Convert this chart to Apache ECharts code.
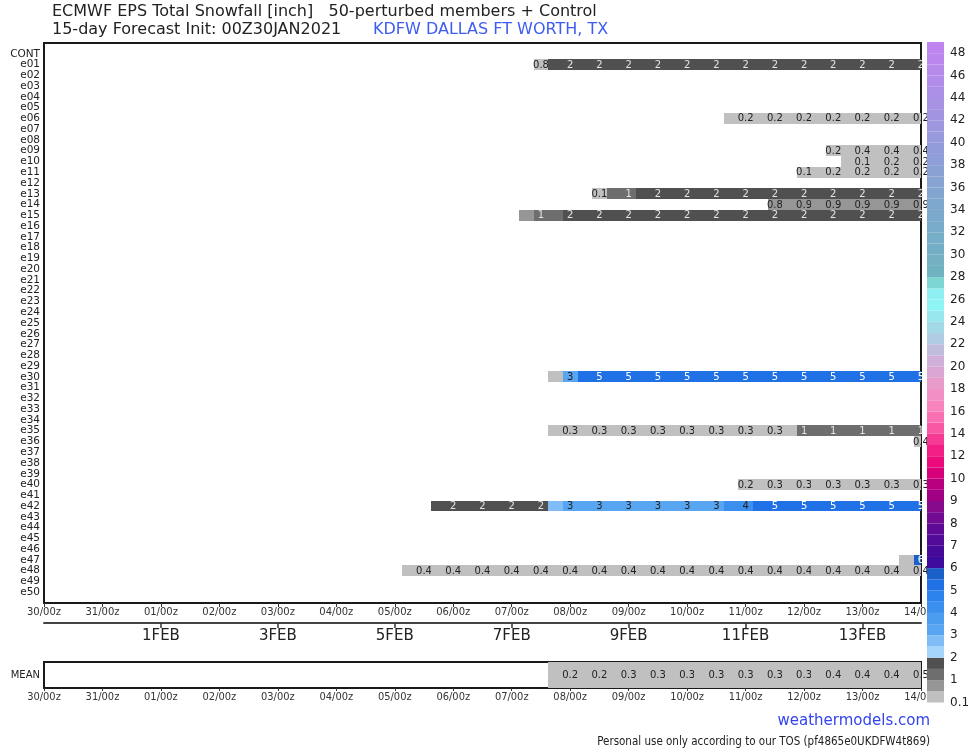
<!DOCTYPE html>
<html><head><meta charset="utf-8">
<script src="https://cdn.jsdelivr.net/npm/echarts@6/dist/echarts.min.js"></script>
<style>html,body{margin:0;padding:0;background:#fff}#c{width:975px;height:750px}</style>
</head><body><div id="c"></div>
<script>
// ---------- data ----------
const members = ['CONT','e01','e02','e03','e04','e05','e06','e07','e08','e09','e10',
  'e11','e12','e13','e14','e15','e16','e17','e18','e19','e20',
  'e21','e22','e23','e24','e25','e26','e27','e28','e29','e30',
  'e31','e32','e33','e34','e35','e36','e37','e38','e39','e40',
  'e41','e42','e43','e44','e45','e46','e47','e48','e49','e50'];
const timeLabels = ['30/00z','31/00z','01/00z','02/00z','03/00z','04/00z','05/00z','06/00z',
  '07/00z','08/00z','09/00z','10/00z','11/00z','12/00z','13/00z','14/00z'];
const dateSteps = [8,16,24,32,40,48,56];
const dateLabels = ['1FEB','3FEB','5FEB','7FEB','9FEB','11FEB','13FEB'];
const cbLabels = ['0.1','1','2','3','4','5','6','7','8','9','10','12','14','16','18','20',
  '22','24','26','28','30','32','34','36','38','40','42','44','46','48'];
const binEdges = [0.1,0.8,1,1.5,2,2.5,3,3.5,4,4.5,5,5.5,6,6.5,7,7.5,8,8.5,9,9.5,10,
  11,12,13,14,15,16,17,18,19,20,21,22,23,24,25,26,27,28,29,30,31,32,33,34,35,36,37,38,
  39,40,41,42,43,44,45,46,47,48,50];

// accumulated snowfall per member: first 6-hourly step index and values
const e01 = {start:34, v:[0.77,1.8,1.8,1.8,1.8,1.8,1.8,1.8,1.8,1.8,1.8,1.8,1.8,1.8,1.8,1.8,1.8,1.8,1.8,1.8,1.8,1.8,1.8,1.8,1.8,1.8,1.8]};
const e06 = {start:47, v:[0.2,0.2,0.2,0.2,0.2,0.2,0.2,0.2,0.2,0.2,0.2,0.2,0.2,0.2]};
const e09 = {start:54, v:[0.2,0.3,0.4,0.4,0.4,0.4,0.4]};
const e10 = {start:55, v:[0.1,0.1,0.15,0.2,0.2,0.2]};
const e11 = {start:52, v:[0.1,0.15,0.2,0.2,0.2,0.2,0.2,0.2,0.2]};
const e13 = {start:38, v:[0.1,1.2,1.2,1.8,1.8,1.8,1.8,1.8,1.8,1.8,1.8,1.8,1.8,1.8,1.8,1.8,1.8,1.8,1.8,1.8,1.8,1.8,1.8]};
const e14 = {start:50, v:[0.84,0.87,0.9,0.9,0.9,0.9,0.9,0.9,0.9,0.9,0.9]};
const e15 = {start:33, v:[0.85,1.2,1.3,1.8,1.8,1.8,1.8,1.8,1.8,1.8,1.8,1.8,1.8,1.8,1.8,1.8,1.8,1.8,1.8,1.8,1.8,1.8,1.8,1.8,1.8,1.8,1.8,1.8]};
const e30 = {start:35, v:[0.3,3.2,5.2,5.2,5.2,5.2,5.2,5.2,5.2,5.2,5.2,5.2,5.2,5.2,5.2,5.2,5.2,5.2,5.2,5.2,5.2,5.2,5.2,5.2,5.2,5.2]};
const e35 = {start:35, v:[0.3,0.3,0.3,0.3,0.3,0.3,0.3,0.3,0.3,0.3,0.3,0.3,0.3,0.3,0.3,0.3,0.3,1.2,1.2,1.2,1.2,1.2,1.2,1.2,1.2,1.2]};
const e36 = {start:60, v:[0.4]};
const e40 = {start:48, v:[0.2,0.25,0.3,0.3,0.3,0.3,0.3,0.3,0.3,0.3,0.3,0.3,0.3]};
const e42 = {start:27, v:[1.8,1.8,1.8,1.8,1.8,1.8,1.8,1.8,2.8,3.2,3.2,3.2,3.2,3.2,3.2,3.2,3.2,3.2,3.2,3.2,4.2,4.2,5.2,5.2,5.2,5.2,5.2,5.2,5.2,5.2,5.2,5.2,5.2,5.2]};
const e47 = {start:59, v:[0.3,5.8]};
const e48 = {start:25, v:[0.4,0.4,0.4,0.4,0.4,0.4,0.4,0.4,0.4,0.4,0.4,0.4,0.4,0.4,0.4,0.4,0.4,0.4,0.4,0.4,0.4,0.4,0.4,0.4,0.4,0.4,0.4,0.4,0.4,0.4,0.4,0.4,0.4,0.4,0.4,0.4]};
const meanRun = {start:35, v:[0.15,0.2,0.2,0.24,0.26,0.28,0.29,0.3,0.3,0.3,0.3,0.3,0.31,0.32,0.33,0.33,0.34,0.34,0.35,0.36,0.37,0.38,0.39,0.4,0.42,0.46]};
const runs = [['e01',e01],['e06',e06],['e09',e09],['e10',e10],['e11',e11],['e13',e13],['e14',e14],
  ['e15',e15],['e30',e30],['e35',e35],['e36',e36],['e40',e40],['e42',e42],['e47',e47],['e48',e48]];

// ---------- style ----------
const cbColors = ['#c0c0c0','#969696','#6e6e6e','#505050',
  '#a5d5fa','#80bcf6','#58a6f1','#4a9def','#3b90ef','#2d83ec','#2070e6','#1a60c8',
  '#3c0a9c','#460a9a','#520a98','#5e0a96','#720a92','#880a8c','#a00084','#b8007e',
  '#d8007a','#ec0a7c','#f21e86','#f63a94','#f958a4','#fa70b2','#f884be','#f290c6','#e89ccc','#dca6d2',
  '#d0b0d8','#c0bcdc','#b0cce4','#a4dae8','#98e6ee','#8ef4f4','#8ef0f0','#7ed6d2',
  '#70b2c0','#72b0c2','#74aec5','#76adc7','#78abc9','#7ba9cb','#7ea7cd','#82a5cf','#86a3d2','#8aa1d4',
  '#8f9ed7','#939cda','#989adc','#9d97df','#a294e1','#a792e4','#ac8fe6','#b18ce9','#b68aeb','#bb87ee','#c084f1'];
function segOf(v){ for(let i=binEdges.length-2;i>=0;i--){ if(v>=binEdges[i]) return i; } return -1; }
function fmt(v){ return v < 1 ? v.toFixed(1) : String(Math.round(v)); }
function txtColor(s){ return (s===2||s===3) ? '#e4e4e4' : (s>=10 ? '#ffffff' : '#222222'); }

const cellData = [];
runs.forEach(([name, run]) => {
  const r = members.indexOf(name);
  run.v.forEach((v, i) => cellData.push([run.start + i, r, v]));
});
const meanData = meanRun.v.map((v, i) => [meanRun.start + i, 0, v]);
const cbData = cbColors.map((c, i) => [i]);

function renderCell(params, api){
  const k = api.value(0), r = api.value(1), v = api.value(2);
  const p0 = api.coord([k - 0.5, r - 0.5]);
  const p1 = api.coord([k + 0.5, r + 0.5]);
  const x0 = Math.round(Math.min(p0[0], p1[0])), x1 = Math.round(Math.max(p0[0], p1[0]));
  const y0 = Math.round(Math.min(p0[1], p1[1])), y1 = Math.round(Math.max(p0[1], p1[1]));
  const cs = params.coordSys;
  const rect = echarts.graphic.clipRectByRect({x:x0, y:y0, width:x1-x0, height:y1-y0},
    {x:cs.x, y:cs.y, width:cs.width, height:cs.height});
  const s = segOf(v);
  const children = [];
  if (rect && s >= 0) children.push({type:'rect', shape:rect, style:{fill:cbColors[s]}});
  if (k % 2 === 0) children.push({type:'text', style:{text:fmt(v), x:(p0[0]+p1[0])/2, y:(p0[1]+p1[1])/2 + 0.5,
    align:'center', verticalAlign:'middle', fill:txtColor(s), fontSize:10, fontFamily:'DejaVu Sans'}});
  return {type:'group', children};
}
function renderCb(params, api){
  const i = api.value(0);
  const p0 = api.coord([0, i]);
  const p1 = api.coord([1, i + 1]);
  return {type:'rect', shape:{x:p0[0], y:Math.min(p0[1],p1[1]), width:p1[0]-p0[0], height:Math.abs(p1[1]-p0[1])},
    style:{fill:cbColors[i]}};
}

const chart = echarts.init(document.getElementById('c'), null, {renderer:'canvas'});
const tfont = 'DejaVu Sans';
const nfont = "'Liberation Sans Narrow','DejaVu Sans Condensed',sans-serif";
chart.setOption({
  animation:false,
  backgroundColor:'#ffffff',
  title:[
    {text:'ECMWF EPS Total Snowfall [inch]   50-perturbed members + Control', left:52, top:4, padding:0,
      textStyle:{fontSize:16, fontWeight:'normal', color:'#222', fontFamily:tfont}},
    {text:'15-day Forecast Init: 00Z30JAN2021', left:52, top:22, padding:0,
      textStyle:{fontSize:16, fontWeight:'normal', color:'#222', fontFamily:tfont}},
    {text:'KDFW DALLAS FT WORTH, TX', left:373, top:22, padding:0,
      textStyle:{fontSize:16, fontWeight:'normal', color:'#3d5cf2', fontFamily:tfont}},
    {text:'weathermodels.com', right:45, top:714, padding:0,
      textStyle:{fontSize:15, fontWeight:'normal', color:'#3344ee', fontFamily:tfont}},
    {text:'Personal use only according to our TOS (pf4865e0UKDFW4t869)', right:45, top:736, padding:0,
      textStyle:{fontSize:11.5, fontWeight:'normal', color:'#222', fontFamily:nfont}}
  ],
  grid:[
    {left:44, top:43, width:877, height:560, show:true, borderColor:'#1a1a1a', borderWidth:2, backgroundColor:'#fff'},
    {left:44, top:662, width:877, height:26, show:true, borderColor:'#1a1a1a', borderWidth:2, backgroundColor:'#fff'},
    {left:927, top:42, width:17, height:660.5, show:false}
  ],
  xAxis:[
    {gridIndex:0, type:'value', min:0, max:60, interval:4, position:'bottom',
      axisLine:{show:false, onZero:false}, splitLine:{show:false},
      axisTick:{show:true, length:4, lineStyle:{color:'#333'}},
      axisLabel:{fontSize:10, color:'#333', margin:4, fontFamily:'DejaVu Sans',
        formatter:v => timeLabels[v/4] || ''}},
    {gridIndex:0, type:'value', min:0, max:60, position:'bottom', offset:20,
      axisLine:{show:true, onZero:false, lineStyle:{color:'#444', width:2}}, splitLine:{show:false},
      axisTick:{show:true, length:5, customValues:dateSteps, lineStyle:{color:'#333', width:1.5}},
      axisLabel:{fontSize:15, color:'#222', margin:6, fontFamily:'DejaVu Sans', customValues:dateSteps,
        formatter:v => dateLabels[dateSteps.indexOf(v)] || ''}},
    {gridIndex:1, type:'value', min:0, max:60, interval:4, position:'bottom',
      axisLine:{show:false, onZero:false}, splitLine:{show:false},
      axisTick:{show:true, length:3, lineStyle:{color:'#333'}},
      axisLabel:{fontSize:11, color:'#333', margin:4, fontFamily:nfont,
        formatter:v => timeLabels[v/4] || ''}},
    {gridIndex:2, type:'value', min:0, max:1, show:false}
  ],
  yAxis:[
    {gridIndex:0, type:'value', min:-1, max:51, interval:1, inverse:true,
      axisLine:{show:false, onZero:false}, axisTick:{show:false}, splitLine:{show:false},
      axisLabel:{fontSize:10.5, color:'#222', margin:4, fontFamily:'DejaVu Sans',
        formatter:v => (v >= 0 && v <= 50) ? members[v] : ''}},
    {gridIndex:1, type:'value', min:-0.5, max:0.5, interval:0.5,
      axisLine:{show:false, onZero:false}, axisTick:{show:false}, splitLine:{show:false},
      axisLabel:{fontSize:10, color:'#222', margin:4, fontFamily:'DejaVu Sans',
        formatter:v => v === 0 ? 'MEAN' : ''}},
    {gridIndex:2, type:'value', min:0, max:59, interval:2, position:'right',
      axisLine:{show:false}, axisTick:{show:false}, splitLine:{show:false},
      axisLabel:{fontSize:12, color:'#222', margin:6, fontFamily:'DejaVu Sans',
        formatter:v => (v % 2 === 0 && v/2 < cbLabels.length) ? cbLabels[v/2] : ''}}
  ],
  series:[
    {type:'custom', name:'members', xAxisIndex:0, yAxisIndex:0, clip:false, renderItem:renderCell, data:cellData, z:3},
    {type:'custom', name:'mean', xAxisIndex:2, yAxisIndex:1, clip:false, renderItem:renderCell, data:meanData, z:3},
    {type:'custom', name:'colorbar', xAxisIndex:3, yAxisIndex:2, clip:false, renderItem:renderCb, data:cbData, z:5}
  ]
});
</script></body></html>
